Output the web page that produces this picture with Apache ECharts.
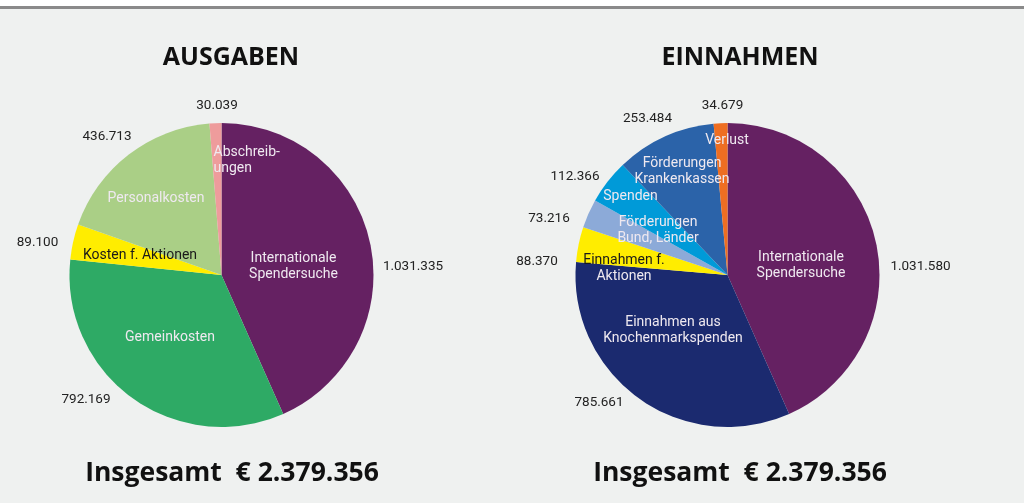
<!DOCTYPE html>
<html><head><meta charset="utf-8">
<script src="https://cdn.jsdelivr.net/npm/echarts@6/dist/echarts.min.js"></script>
<style>html,body{margin:0;padding:0;background:#fff}#c{width:1024px;height:503px}</style>
</head><body><div id="c"></div>
<script>
// ---- data ----
const titles = ['AUSGABEN', 'EINNAHMEN'];
const totalPrefix = 'Insgesamt  € ';
const ausgabenNames = ['Internationale\nSpendersuche', 'Gemeinkosten', 'Kosten f. Aktionen', 'Personalkosten', 'Abschreib-\nungen'];
const ausgabenValues = [1031335, 792169, 89100, 436713, 30039];
const einnahmenNames = ['Internationale\nSpendersuche', 'Einnahmen aus\nKnochenmarkspenden', 'Einnahmen f.\nAktionen', 'Förderungen\nBund, Länder', 'Spenden', 'Förderungen\nKrankenkassen', 'Verlust'];
const einnahmenValues = [1031580, 785661, 88370, 73216, 112366, 253484, 34679];

// ---- styles / layout ----
const ausgabenColors = ['#652162', '#2eaa65', '#ffed00', '#aacf86', '#ee9c9c'];
const einnahmenColors = ['#652162', '#1b2a6f', '#ffed00', '#8caad8', '#009ad8', '#2b63a9', '#ee6e22'];
const centers = [[221.5, 275], [727.5, 275]];
const R = 152;
// label anchor offsets from pie centre [dx, dy, align]
const ausInPos = [[72, -9, 'center'], [-51.5, 62, 'center'], [-81.5, -20, 'center'], [-65.5, -77, 'center'], [-8, -115, 'left']];
const ausOutPos = [[191.5, -8], [-135.5, 125], [-184, -32], [-114.5, -138], [-4.5, -169]];
const einInPos = [[73.5, -10, 'center'], [-54.5, 55, 'center'], [-103.5, -7, 'center'], [-69.5, -45, 'center'], [-97, -79, 'center'], [-45.5, -104, 'center'], [-0.5, -135, 'center']];
const einOutPos = [[193, -8], [-128.5, 128], [-190.5, -13], [-178.5, -56], [-152.5, -98], [-80, -156], [-5, -169]];

function fmt(v) { return String(v).replace(/\B(?=(\d{3})+(?!\d))/g, '.'); }
function sum(a) { return a.reduce((s, x) => s + x, 0); }

const chart = echarts.init(document.getElementById('c'), null, {renderer: 'canvas'});
const labelFont = 'Roboto';
const lightText = '#efe9f0';
const inSize = 14;

function mkData(names, values, colors) {
  return names.map((n, i) => ({name: n, value: values[i], itemStyle: {color: colors[i]}}));
}
function layoutFn(ci, pos) {
  return function (p) {
    const q = pos[p.dataIndex];
    return {x: centers[ci][0] + q[0], y: centers[ci][1] + q[1], align: q[2] || 'center', verticalAlign: 'middle'};
  };
}

const ausData = mkData(ausgabenNames, ausgabenValues, ausgabenColors);
ausData[2].label = {color: '#1a1a1a'};
const einData = mkData(einnahmenNames, einnahmenValues, einnahmenColors);
einData[2].label = {formatter: '{a|Einnahmen f.}\n{b|Aktionen}'};

function sectorSeries(ci, data, pos) {
  return {
    type: 'pie', center: centers[ci], radius: R, startAngle: 90, clockwise: true,
    avoidLabelOverlap: false, animation: false, silent: true,
    itemStyle: {borderWidth: 0},
    label: {show: true, position: 'inside', color: lightText, fontFamily: labelFont, fontSize: inSize, lineHeight: 16,
      rich: {a: {color: '#1a1a1a', fontFamily: labelFont, fontSize: inSize, lineHeight: 16}, b: {color: lightText, fontFamily: labelFont, fontSize: inSize, lineHeight: 16}}},
    labelLine: {show: false},
    labelLayout: layoutFn(ci, pos),
    data: data
  };
}
function valueSeries(ci, names, values, pos) {
  return {
    type: 'pie', center: centers[ci], radius: R, startAngle: 90, clockwise: true,
    avoidLabelOverlap: false, animation: false, silent: true,
    itemStyle: {color: 'rgba(0,0,0,0)'},
    label: {show: true, position: 'inside', color: '#222', fontFamily: labelFont, fontSize: 13.5,
      formatter: p => fmt(p.value)},
    labelLine: {show: false},
    labelLayout: layoutFn(ci, pos),
    data: names.map((n, i) => ({name: n, value: values[i]}))
  };
}

const headStyle = {fontFamily: 'Open Sans', fontWeight: 'bold', fontSize: 25, color: '#111'};
const totalStyle = {fontFamily: 'Open Sans', fontWeight: 'bold', fontSize: 26.5, color: '#111'};

chart.setOption({
  backgroundColor: '#eff1f0',
  graphic: [
    {type: 'rect', shape: {x: 0, y: 0, width: 1024, height: 6}, style: {fill: '#ffffff'}, silent: true},
    {type: 'rect', shape: {x: 0, y: 6, width: 1024, height: 3}, style: {fill: '#8a8a8a'}, silent: true}
  ],
  title: [
    {text: titles[0], left: 226, top: 53, textAlign: 'center', textVerticalAlign: 'middle', textStyle: headStyle},
    {text: titles[1], left: 735, top: 53, textAlign: 'center', textVerticalAlign: 'middle', textStyle: headStyle},
    {text: totalPrefix + fmt(sum(ausgabenValues)), left: 227, top: 468, textAlign: 'center', textVerticalAlign: 'middle', textStyle: totalStyle},
    {text: totalPrefix + fmt(sum(einnahmenValues)), left: 735, top: 468, textAlign: 'center', textVerticalAlign: 'middle', textStyle: totalStyle}
  ],
  series: [
    sectorSeries(0, ausData, ausInPos),
    valueSeries(0, ausgabenNames, ausgabenValues, ausOutPos),
    sectorSeries(1, einData, einInPos),
    valueSeries(1, einnahmenNames, einnahmenValues, einOutPos)
  ]
});
</script></body></html>
